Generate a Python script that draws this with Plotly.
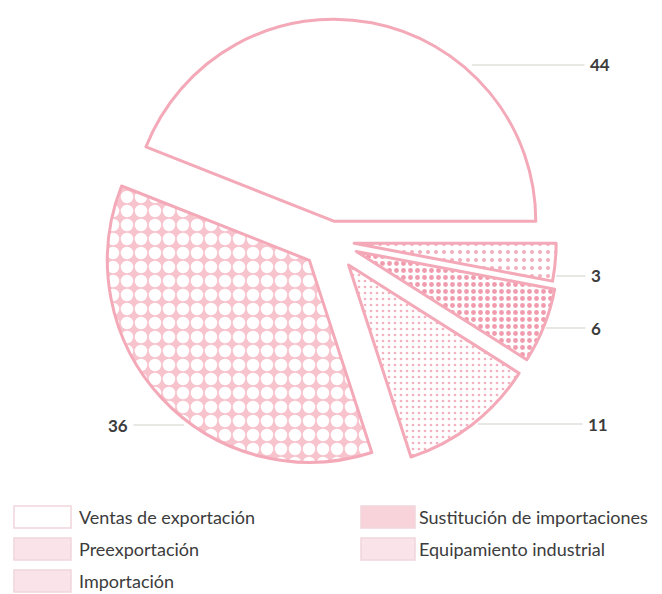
import plotly.graph_objects as go

# ---- data ----
labels = ["Ventas de exportación", "Importación", "Equipamiento industrial",
          "Sustitución de importaciones", "Preexportación"]
values = [44, 36, 11, 6, 3]
legend_order = ["Ventas de exportación", "Preexportación", "Importación",
                "Sustitución de importaciones", "Equipamiento industrial"]

# ---- styling ----
W, H = 662, 594
PINK = "#f4a9b8"
PINK_L = "#f7c4ce"
TXT = "#3c3c3c"

pulls = [0.10, 0.14, 0.15, 0.14, 0.12]
cx, cy, r = 322, 233, 202
half = r * (1 + max(pulls))
dom_x = [(cx - half) / W, (cx + half) / W]
dom_y = [max(0, 1 - (cy + half) / H), min(1, 1 - (cy - half) / H)]
# first slice should sit between 3 o'clock and its own size counter-clockwise
rot = 90 - 360 * values[0] / sum(values)

pattern = {
    "Ventas de exportación": dict(shape="", fg="white", bg="white", size=8, sol=0.2),
    "Importación": dict(shape=".", fg="white", bg=PINK_L, size=14, sol=0.62),
    "Equipamiento industrial": dict(shape=".", fg="#f2b3bf", bg="white", size=6, sol=0.16),
    "Sustitución de importaciones": dict(shape=".", fg="#f09cae", bg="white", size=7, sol=0.38),
    "Preexportación": dict(shape=".", fg="#f2aebb", bg="white", size=8, sol=0.2),
}

fig = go.Figure()
fig.add_trace(go.Pie(
    labels=labels, values=values, sort=False, direction="counterclockwise",
    rotation=rot, pull=pulls, textinfo="none", hoverinfo="label+value",
    showlegend=False, domain=dict(x=dom_x, y=dom_y),
    marker=dict(
        colors=["white"] * len(labels),
        line=dict(color=PINK, width=3),
        pattern=dict(
            shape=[pattern[l]["shape"] for l in labels],
            fgcolor=[pattern[l]["fg"] for l in labels],
            bgcolor=[pattern[l]["bg"] for l in labels],
            size=[pattern[l]["size"] for l in labels],
            solidity=[pattern[l]["sol"] for l in labels],
            fillmode="replace",
        ),
    ),
))

# value labels with leader lines (label x, label y, leader tip x)
label_pos = {
    "Ventas de exportación": (592, 57, 464),
    "Importación": (110, 417, 176),
    "Preexportación": (588, 268, 548),
    "Sustitución de importaciones": (588, 320, 538),
    "Equipamiento industrial": (590, 416, 470),
}
for lab, val in zip(labels, values):
    tx, ty, tip = label_pos[lab]
    fig.add_annotation(
        x=tip / W, y=1 - ty / H, xref="paper", yref="paper",
        ax=tx - tip, ay=0, axref="pixel", ayref="pixel",
        text=str(val), showarrow=True, arrowhead=0, arrowwidth=1,
        arrowcolor="#cfcfc8", standoff=0, startstandoff=4,
        font=dict(family="Lato", size=17, color=TXT, weight="bold"),
    )

# legend (two columns)
leg_pos = {
    "Ventas de exportación": (0, 509),
    "Preexportación": (0, 541),
    "Importación": (0, 573),
    "Sustitución de importaciones": (1, 509),
    "Equipamiento industrial": (1, 541),
}
col_sw = [(6, 63), (353, 407)]
col_tx = [69, 409]
for lab in legend_order:
    col, yc = leg_pos[lab]
    x0, x1 = col_sw[col]
    fill = "white" if lab == "Ventas de exportación" else ("#fbe4e9" if lab != "Sustitución de importaciones" else "#f8d3da")
    fig.add_shape(type="rect", xref="paper", yref="paper",
                  x0=x0 / W, x1=x1 / W, y0=1 - (yc - 11) / H, y1=1 - (yc + 11) / H,
                  line=dict(color="#f1d6dc", width=1.5), fillcolor=fill, layer="below")
    fig.add_annotation(x=col_tx[col] / W, y=1 - yc / H, xref="paper", yref="paper",
                       text=lab, showarrow=False, xanchor="left", yanchor="middle",
                       font=dict(family="Lato", size=18, color=TXT))

fig.update_layout(
    width=W, height=H, margin=dict(l=0, r=0, t=0, b=0),
    paper_bgcolor="white", plot_bgcolor="white",
)
fig.write_html("out.html")
